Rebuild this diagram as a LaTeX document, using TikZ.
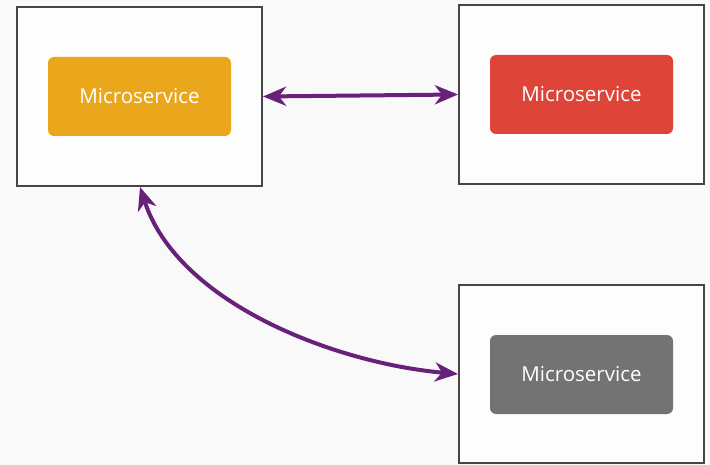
\documentclass[tikz,border=0pt]{standalone}
\usepackage{fontspec}
\setmainfont{Open Sans}
\usetikzlibrary{arrows.meta}
\definecolor{bgcol}{HTML}{F9F9F9}
\definecolor{framecol}{HTML}{454545}
\definecolor{svcorange}{HTML}{EBA71C}
\definecolor{svcred}{HTML}{DE4538}
\definecolor{svcgray}{HTML}{737373}
\definecolor{linkcol}{HTML}{68217A}
\tikzset{
  frame/.style={draw=framecol,line width=2pt,fill=white!60!bgcol,minimum width=245pt,minimum height=179pt,inner sep=0pt},
  service/.style={rounded corners=6pt,minimum width=183pt,minimum height=79pt,text=white,font=\fontsize{20.5}{23}\selectfont,inner sep=0pt},
  link/.style={draw=linkcol,line width=4pt,<->}
}
\begin{document}
\begin{tikzpicture}[x=1pt,y=1pt,>={Stealth[length=23pt,width=19pt,inset=7pt]}]
  \fill[bgcol] (0,0) rectangle (710,-465);
  \useasboundingbox (0,0) rectangle (710,-465);
  % boxes
  \node[frame] (tl) at (139.5,-96.5) {};
  \node[frame] (tr) at (581.5,-94.5) {};
  \node[frame,minimum height=178pt] (br) at (581.5,-374) {};
  \node[service,fill=svcorange] (s1) at (tl.center) {Microservice};
  \node[service,fill=svcred] (s2) at (tr.center) {Microservice};
  \node[service,fill=svcgray] (s3) at ([yshift=-0.5pt]br.center) {Microservice};
  % links
  \draw[link] (tl.east) -- (tr.west);
  \draw[link] ([xshift=0.5pt]tl.south) to[out=-72,in=175,looseness=0.85] (br.west);
\end{tikzpicture}
\end{document}
